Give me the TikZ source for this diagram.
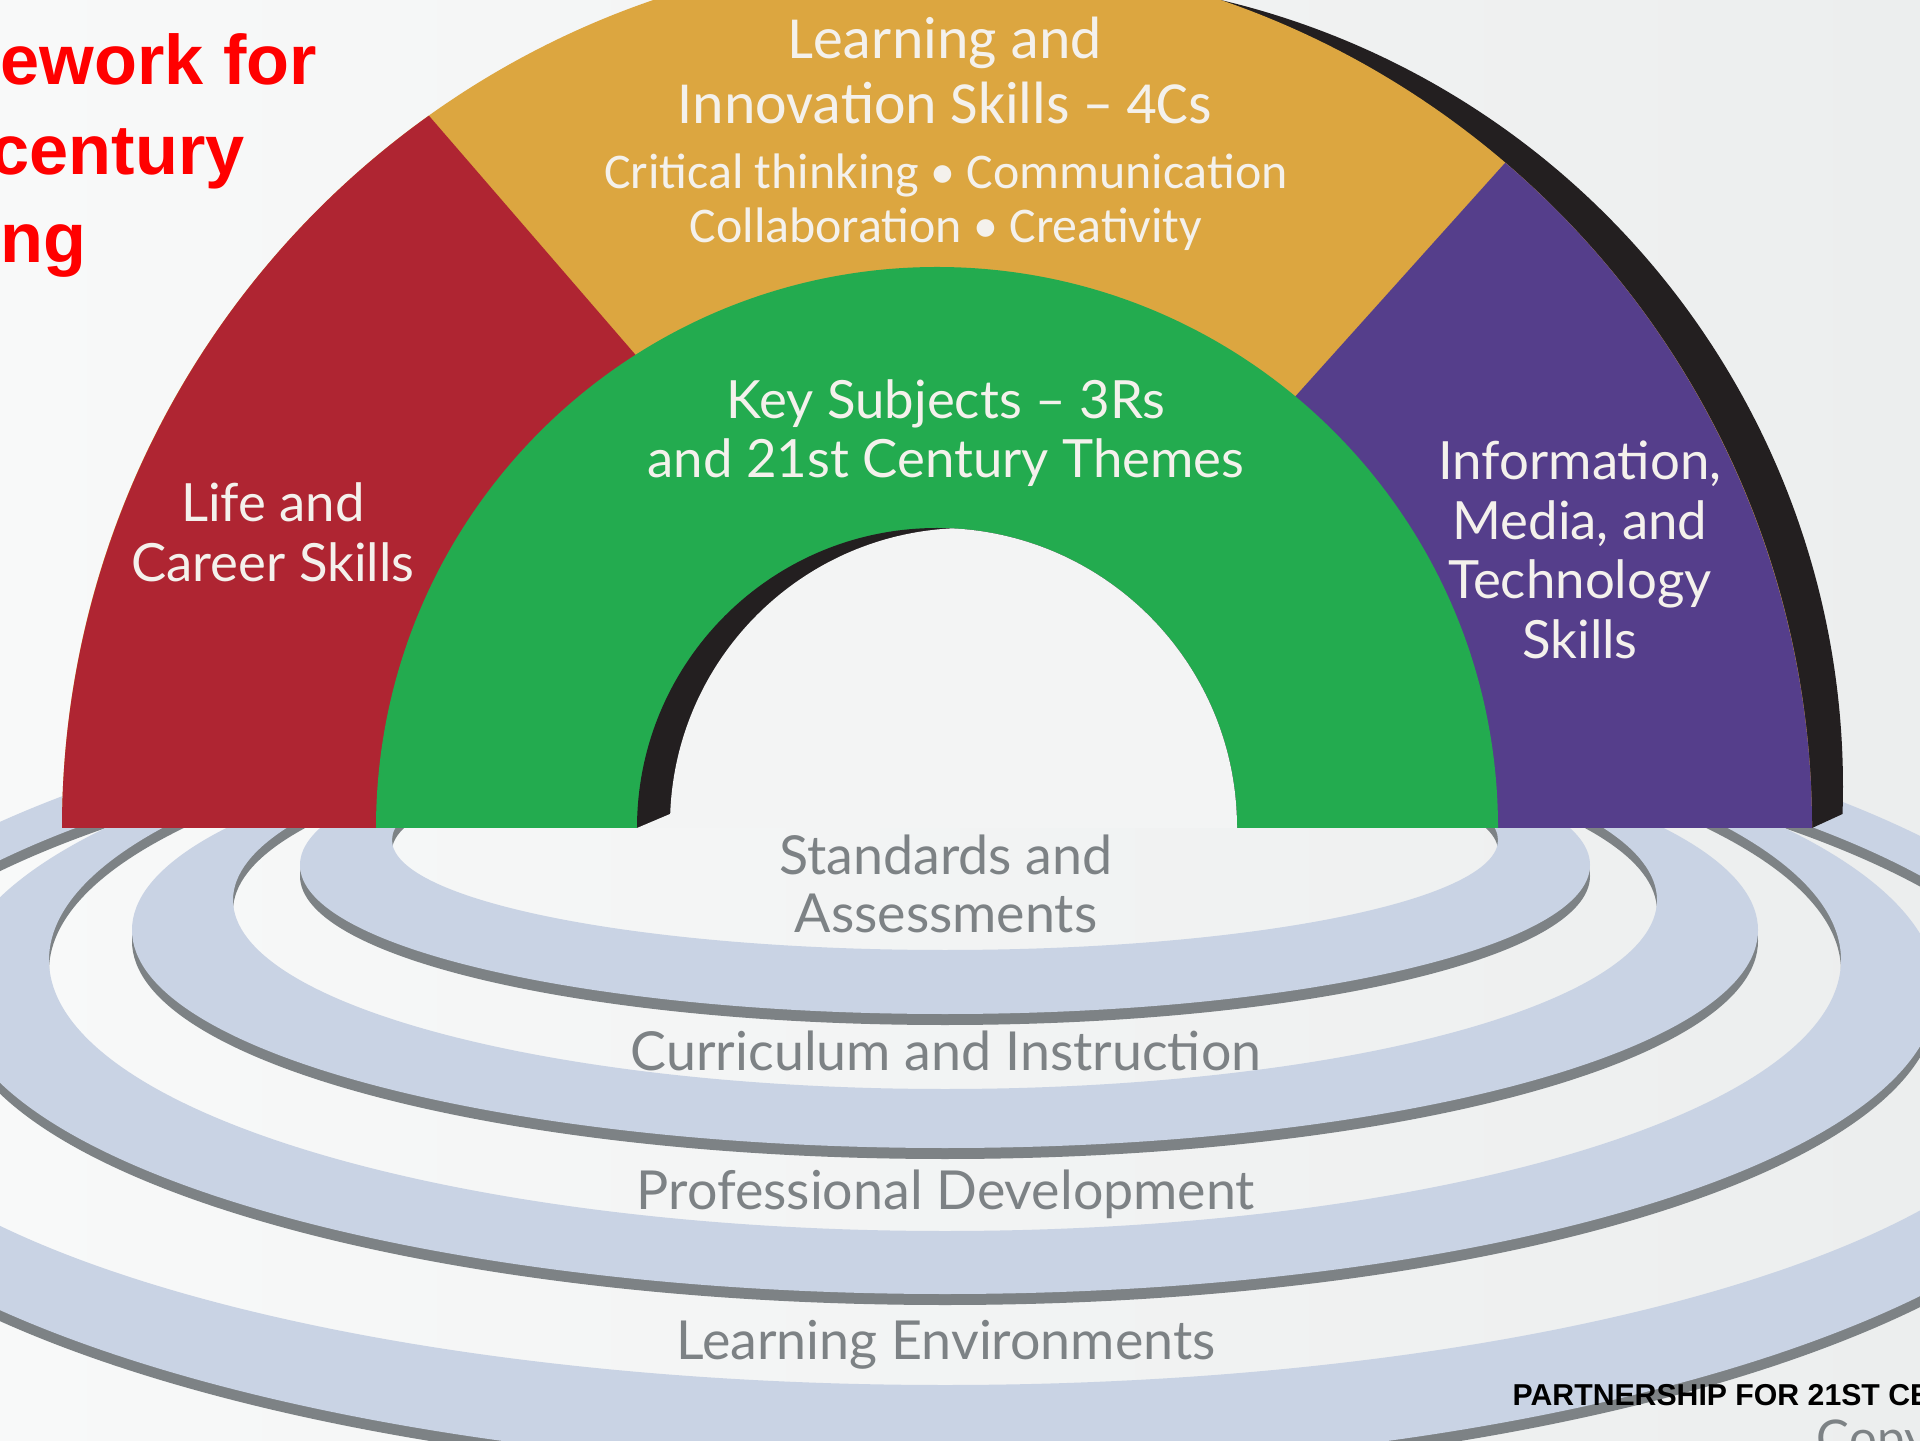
\documentclass[tikz,border=0pt]{standalone}
\usepackage{fontspec}
\setmainfont{Lato}
\newfontfamily\gillfont{Lato}
\newfontfamily\myriadfont{Carlito}
\newfontfamily\arialfont{Liberation Sans}
\usepackage{tikz}

\definecolor{lifered}{HTML}{AF2532}
\definecolor{innogold}{HTML}{DCA640}
\definecolor{techpurple}{HTML}{553E8B}
\definecolor{keygreen}{HTML}{23AB4F}
\definecolor{wallblack}{HTML}{231F20}
\definecolor{ringblue}{HTML}{C9D3E4}
\definecolor{ringshade}{HTML}{7D8285}
\definecolor{ringtext}{HTML}{7D8285}
\definecolor{bgleft}{HTML}{F8F9F9}
\definecolor{bgright}{HTML}{ECEEEE}
\definecolor{holebg}{HTML}{F3F4F4}
\definecolor{labeltext}{HTML}{F4F1EC}

\tikzset{
  archlabel/.style={text=labeltext,align=center,font=\gillfont\fontsize{15}{17}\selectfont},
  innolabel/.style={text=labeltext,align=center,font=\myriadfont\fontsize{17}{18.5}\selectfont},
  innosub/.style={text=labeltext,align=center,font=\myriadfont\fontsize{14.2}{15.4}\selectfont},
  ringlabel/.style={text=ringtext,align=center,font=\gillfont\fontsize{15.3}{16.5}\selectfont},
  titletext/.style={text=red,anchor=base west,inner sep=0pt,font=\arialfont\bfseries\fontsize{20}{24}\selectfont}
}

% one ring: inner ellipse (cy,a,b), outer ellipse (cy,a,b)
\newcommand{\ringband}[6]{%
  \fill[ringshade,even odd rule] (9.45,#4-0.11) ellipse [x radius=#5,y radius=#6]
    (9.45,#1-0.11) ellipse [x radius=#2,y radius=#3];
  \fill[ringblue,even odd rule] (9.45,#4) ellipse [x radius=#5,y radius=#6]
    (9.45,#1) ellipse [x radius=#2,y radius=#3];
}

\begin{document}
\begin{tikzpicture}
\useasboundingbox (0,0) rectangle (19.2,14.4);
\clip (0,0) rectangle (19.2,14.4);
\shade[left color=bgleft,right color=bgright] (0,0) rectangle (19.2,14.4);

% rings, outermost first
\ringband{3.97}{11.18}{3.42}{3.74}{11.86}{4.04}
\ringband{4.80}{8.96}{2.71}{4.50}{9.92}{3.04}
\ringband{5.40}{7.12}{1.89}{5.10}{8.13}{2.18}
\ringband{6.00}{5.53}{1.10}{5.75}{6.45}{1.49}

% the arch
\begin{scope}[shift={(9.37,6.12)}]
\fill[wallblack] (8.75,0) -- (9.055,0.14) arc[start angle=-1.96,end angle=100,radius=8.08] -- cycle;
\fill[innogold] (0:8.75) arc[start angle=0,end angle=180,radius=8.75] -- cycle;
\fill[lifered] (180:8.75) arc[start angle=180,end angle=125.5,radius=8.75] -- (122.5:5.61) -- (0,0) -- cycle;
\fill[techpurple] (0:8.75) arc[start angle=0,end angle=49.5,radius=8.75] -- (50.3:5.61) -- (0,0) -- cycle;
\fill[keygreen] (0:5.61) arc[start angle=0,end angle=180,radius=5.61] -- cycle;
\fill[wallblack] (0:3) arc[start angle=0,end angle=180,radius=3] -- cycle;
\begin{scope}
\clip (0:3) arc[start angle=0,end angle=180,radius=3] -- cycle;
\fill[holebg] (0.30,0.03) circle [radius=2.97];
\end{scope}
\fill[holebg] (-3,0) -- (-2.67,0.14) -- (-2.67,0) -- cycle;
\end{scope}

\node[innolabel] (innotitle) at (9.45,13.70) {Learning and\\Innovation Skills – 4Cs};
\node[innosub] (fourcs) at (9.46,12.38) {Critical thinking • Communication\\Collaboration • Creativity};
\node[archlabel] (keysub) at (9.46,10.07) {Key Subjects – 3Rs\\and 21st Century Themes};
\node[archlabel] (lifecareer) at (2.73,9.08) {Life and\\Career Skills};
\node[archlabel] (infotech) at (15.80,8.90) {Information,\hspace{0.35cm}\\Media, and\hspace{0.25cm}\\Technology\\Skills};

\node[ringlabel] (stdassess) at (9.46,5.56) {Standards and\\Assessments};
\node[ringlabel] (curric) at (9.46,3.89) {Curriculum and Instruction};
\node[ringlabel] (profdev) at (9.46,2.46) {Professional Development};
\node[ringlabel] (learnenv) at (9.46,0.95) {Learning Environments};

\node[titletext] (titleA) at (0,13.55) {ework for};
\node[titletext] (titleB) at (-0.10,12.65) {century};
\node[titletext] (titleC) at (0,11.77) {ng};

\node[anchor=base west,inner sep=0pt,font=\arialfont\bfseries\fontsize{8.6}{10}\selectfont] (p21) at (15.12,0.35) {PARTNERSHIP FOR 21ST CEN};
\node[anchor=base west,inner sep=0pt,text=ringtext,font=\gillfont\fontsize{14}{16}\selectfont] (copyline) at (18.16,-0.15) {Copy};
\end{tikzpicture}
\end{document}
